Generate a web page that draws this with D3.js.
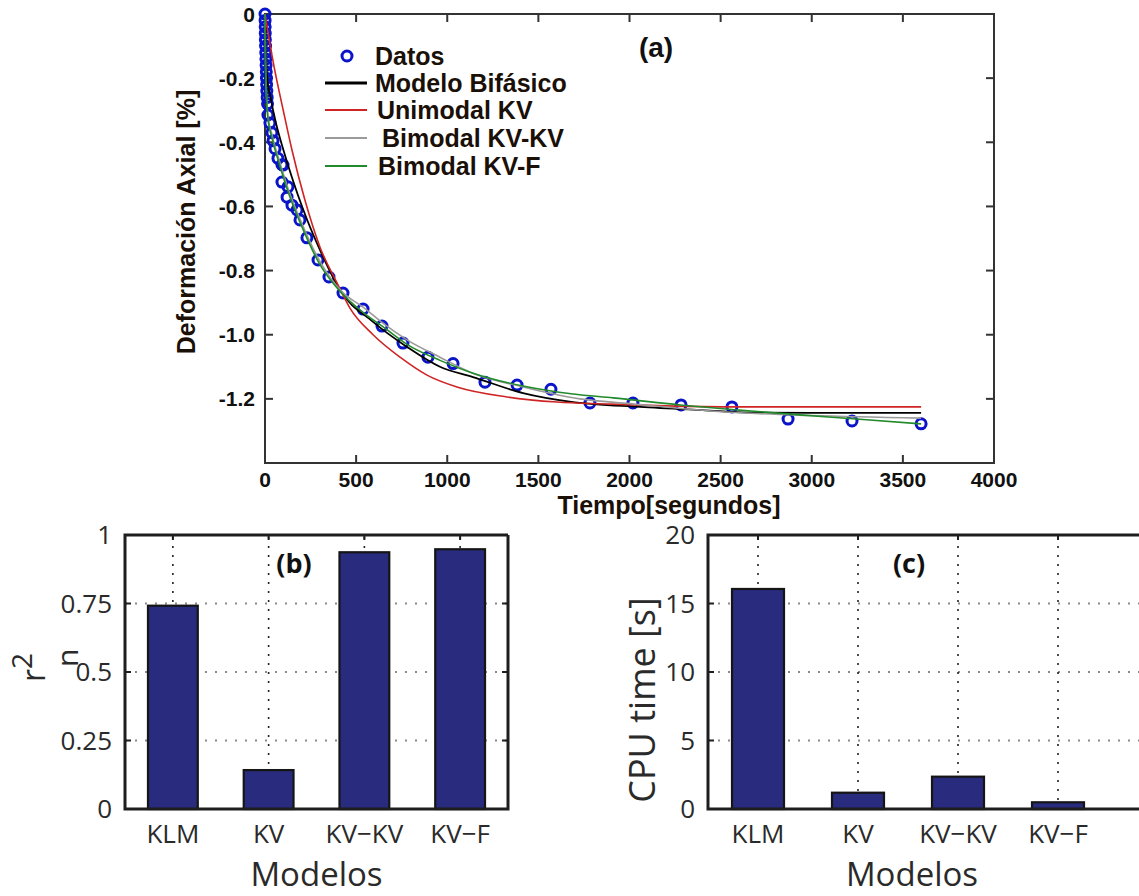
<!DOCTYPE html>
<html><head><meta charset="utf-8">
<script src="https://cdn.jsdelivr.net/npm/d3@7"></script>
<style>body{margin:0;background:#fff}</style>
</head><body><svg id="chart" width="1139" height="896"></svg>
<script>
// ---------- Panel (a) data ----------
const datosTime   = [0,0.5,1,1.5,2,3,4,5,6,7,8,9,10,12,14,16,27,38,44,55,71,93,99,93,126,121,148,176,192,230,291,351,428,538,642,757,894,1032,1207,1383,1569,1783,2019,2283,2562,2870,3221,3600];
const datosStrain = [0,-0.02,-0.04,-0.06,-0.08,-0.10,-0.12,-0.14,-0.16,-0.18,-0.20,-0.22,-0.24,-0.26,-0.28,-0.315,-0.34,-0.37,-0.395,-0.42,-0.45,-0.47,-0.471,-0.524,-0.539,-0.571,-0.596,-0.611,-0.642,-0.698,-0.767,-0.82,-0.87,-0.92,-0.973,-1.026,-1.07,-1.09,-1.148,-1.157,-1.17,-1.213,-1.213,-1.219,-1.225,-1.263,-1.269,-1.278];

const bifasicoTime   = [0,5,12,30,60,99,148,181,230,313,412,593,779,960,1141,1416,1690,2058,2400,2700,3000,3600];
const bifasicoStrain = [0,-0.12,-0.20,-0.26,-0.34,-0.42,-0.51,-0.565,-0.64,-0.75,-0.861,-0.96,-1.038,-1.10,-1.132,-1.182,-1.21,-1.225,-1.235,-1.243,-1.244,-1.244];

const unimodalTime   = [0,20,50,100,148,219,302,400,466,593,741,889,1053,1328,1602,1877,2200,2600,3000,3600];
const unimodalStrain = [0,-0.07,-0.165,-0.30,-0.424,-0.58,-0.727,-0.844,-0.917,-1.0,-1.07,-1.126,-1.163,-1.194,-1.21,-1.216,-1.222,-1.225,-1.225,-1.225];

const kvkvTime   = [0,3,8,15,40,80,130,200,300,420,538,647,779,960,1141,1416,1728,2003,2500,3000,3600];
const kvkvStrain = [0,-0.15,-0.25,-0.31,-0.38,-0.46,-0.55,-0.65,-0.77,-0.865,-0.914,-0.964,-1.016,-1.07,-1.12,-1.163,-1.20,-1.215,-1.24,-1.252,-1.26];

const kvfTime   = [0,3,8,15,40,80,130,200,300,420,538,647,779,960,1141,1416,1690,1910,2277,2600,2935,3300,3600];
const kvfStrain = [0,-0.15,-0.26,-0.32,-0.39,-0.47,-0.56,-0.66,-0.78,-0.87,-0.93,-0.975,-1.03,-1.08,-1.12,-1.16,-1.185,-1.197,-1.219,-1.235,-1.25,-1.265,-1.278];

const xTicksA = [0,500,1000,1500,2000,2500,3000,3500,4000];
const yTicksA = [0,-0.2,-0.4,-0.6,-0.8,-1.0,-1.2];
const yTickLabelsA = ["0","-0.2","-0.4","-0.6","-0.8","-1.0","-1.2"];
const legendLabels = ["Datos","Modelo Bifásico","Unimodal KV","Bimodal KV-KV","Bimodal KV-F"];

// ---------- Panels (b), (c) data ----------
const modelos = ["KLM","KV","KV\u2212KV","KV\u2212F"];
const r2Values = [0.742,0.142,0.937,0.948];
const cpuValues = [16.06,1.19,2.36,0.49];
const yTicksB = [0,0.25,0.5,0.75,1];
const yTickLabelsB = ["0","0.25","0.5","0.75","1"];
const yTicksC = [0,5,10,15,20];

const svg = d3.select("#chart");
svg.append("rect").attr("width",1139).attr("height",896).attr("fill","#fff");

// ================= Panel (a) =================
const xA = d3.scaleLinear().domain([0,4000]).range([265,994]);
const yA = d3.scaleLinear().domain([-1.4,0]).range([463,14]);
const gA = svg.append("g");
const boldF = "'Liberation Sans', Arial, sans-serif";

gA.append("rect").attr("x",xA(0)).attr("y",yA(0)).attr("width",xA(4000)-xA(0)).attr("height",yA(-1.4)-yA(0))
  .attr("fill","none").attr("stroke","#333").attr("stroke-width",2);
xTicksA.forEach(t=>{
  gA.append("line").attr("x1",xA(t)).attr("x2",xA(t)).attr("y1",yA(-1.4)).attr("y2",yA(-1.4)-8).attr("stroke","#333").attr("stroke-width",2);
  gA.append("line").attr("x1",xA(t)).attr("x2",xA(t)).attr("y1",yA(0)).attr("y2",yA(0)+8).attr("stroke","#333").attr("stroke-width",2);
  gA.append("text").attr("x",xA(t)).attr("y",487).attr("text-anchor","middle")
    .attr("font-family",boldF).attr("font-weight","bold").attr("font-size",21).attr("fill","#111").text(t);
});
yTicksA.forEach((v,i)=>{
  gA.append("line").attr("x1",xA(0)).attr("x2",xA(0)+8).attr("y1",yA(v)).attr("y2",yA(v)).attr("stroke","#333").attr("stroke-width",2);
  gA.append("line").attr("x1",xA(4000)).attr("x2",xA(4000)-8).attr("y1",yA(v)).attr("y2",yA(v)).attr("stroke","#333").attr("stroke-width",2);
  gA.append("text").attr("x",255).attr("y",yA(v)).attr("dy","0.36em").attr("text-anchor","end")
    .attr("font-family",boldF).attr("font-weight","bold").attr("font-size",21).attr("fill","#111").text(yTickLabelsA[i]);
});
gA.append("text").attr("transform","translate(195,222) rotate(-90)").attr("text-anchor","middle")
  .attr("font-family",boldF).attr("font-weight","bold").attr("font-size",25).attr("fill","#1a1008").text("Deformación Axial [%]");
gA.append("text").attr("x",669).attr("y",514).attr("text-anchor","middle")
  .attr("font-family",boldF).attr("font-weight","bold").attr("font-size",25).attr("fill","#1a1008").text("Tiempo[segundos]");
gA.append("text").attr("x",656).attr("y",57).attr("text-anchor","middle")
  .attr("font-family",boldF).attr("font-weight","bold").attr("font-size",28).attr("fill","#111").text("(a)");

const datos = datosTime.map((t,i)=>({t, v:datosStrain[i]}));
gA.selectAll("circle.d").data(datos).enter().append("circle")
  .attr("cx",d=>xA(d.t)).attr("cy",d=>yA(d.v)).attr("r",5)
  .attr("fill","none").attr("stroke","#0a14c8").attr("stroke-width",3);

const line = d3.line().x(d=>xA(d.t)).y(d=>yA(d.v)).curve(d3.curveMonotoneX);
const models = [
  {t:bifasicoTime, v:bifasicoStrain, c:"#000", w:1.8},
  {t:unimodalTime, v:unimodalStrain, c:"#d02424", w:1.6},
  {t:kvkvTime, v:kvkvStrain, c:"#9a9a9a", w:1.6},
  {t:kvfTime, v:kvfStrain, c:"#218a2a", w:1.6}
];
models.forEach(m=>{
  const pts = m.t.map((t,i)=>({t, v:m.v[i]}));
  gA.append("path").datum(pts).attr("d",line).attr("fill","none").attr("stroke",m.c).attr("stroke-width",m.w);
});

const legY = [56,83,110,138,166];
const legX = [375,375,377,382,378];
gA.append("circle").attr("cx",347).attr("cy",legY[0]).attr("r",5).attr("fill","none").attr("stroke","#0a14c8").attr("stroke-width",3);
models.forEach((m,i)=>{
  gA.append("line").attr("x1",325).attr("x2",367).attr("y1",legY[i+1]).attr("y2",legY[i+1])
    .attr("stroke",m.c).attr("stroke-width",i===0?3:1.8);
});
legendLabels.forEach((s,i)=>{
  gA.append("text").attr("x",legX[i]).attr("y",legY[i]).attr("dy","0.36em")
    .attr("font-family",boldF).attr("font-weight","bold").attr("font-size",25).attr("fill","#1a1008").text(s);
});

// ================= Bar panels =================
const lightF = "'Open Sans', 'Noto Sans', sans-serif";
function barPanel(cfg){
  const g = svg.append("g");
  const x = d3.scaleLinear().domain([0.5,4.5]).range([cfg.x0,cfg.x1]);
  const y = d3.scaleLinear().domain([0,cfg.ymax]).range([809,535]);
  const right = cfg.frameRight;
  cfg.ticks.forEach(v=>{
    if(v===0||v===cfg.ymax) return;
    g.append("line").attr("x1",cfg.x0).attr("x2",right).attr("y1",y(v)).attr("y2",y(v))
      .attr("stroke","#8a8a8a").attr("stroke-width",2).attr("stroke-dasharray","2,8");
  });
  modelos.forEach((m,i)=>{
    g.append("line").attr("x1",x(i+1)).attr("x2",x(i+1)).attr("y1",y(0)).attr("y2",y(cfg.ymax))
      .attr("stroke","#222").attr("stroke-width",1.6).attr("stroke-dasharray","2,7");
  });
  const bw = x(1.26)-x(1);
  g.selectAll("rect.bar").data(cfg.values).enter().append("rect")
    .attr("x",(d,i)=>x(i+1)-bw).attr("width",2*bw)
    .attr("y",d=>y(d)).attr("height",d=>y(0)-y(d))
    .attr("fill","#292b7e").attr("stroke","#151515").attr("stroke-width",2.2);
  g.append("path").attr("d",`M${right},${y(cfg.ymax)}H${cfg.x0}V${y(0)}H${right}`+(cfg.closeRight?`V${y(cfg.ymax)}`:""))
    .attr("fill","none").attr("stroke","#1e1e1e").attr("stroke-width",3);
  cfg.ticks.forEach((v,i)=>{
    g.append("line").attr("x1",cfg.x0).attr("x2",cfg.x0+6).attr("y1",y(v)).attr("y2",y(v)).attr("stroke","#1e1e1e").attr("stroke-width",2);
    if(cfg.closeRight) g.append("line").attr("x1",right).attr("x2",right-6).attr("y1",y(v)).attr("y2",y(v)).attr("stroke","#1e1e1e").attr("stroke-width",2);
    g.append("text").attr("x",cfg.x0-13).attr("y",y(v)).attr("dy","0.36em").attr("text-anchor","end")
      .attr("font-family",lightF).attr("font-size",26).attr("fill","#2a2a2a").text(cfg.tickLabels[i]);
  });
  modelos.forEach((m,i)=>{
    g.append("line").attr("x1",x(i+1)).attr("x2",x(i+1)).attr("y1",y(cfg.ymax)).attr("y2",y(cfg.ymax)+5).attr("stroke","#1e1e1e").attr("stroke-width",2);
    g.append("text").attr("x",x(i+1)).attr("y",843).attr("text-anchor","middle")
      .attr("font-family",lightF).attr("font-size",26).attr("fill","#2a2a2a").text(m);
  });
  g.append("text").attr("x",(cfg.x0+cfg.x1)/2+cfg.labelShift).attr("y",886).attr("text-anchor","middle")
    .attr("font-family",lightF).attr("font-size",33).attr("fill","#2a2a2a").text("Modelos");
  g.append("text").attr("x",cfg.tagX).attr("y",573).attr("text-anchor","middle")
    .attr("font-family",lightF).attr("font-weight","bold").attr("font-size",27).attr("fill","#111").text(cfg.tag);
  return g;
}

barPanel({x0:125,x1:508,frameRight:508,closeRight:true,ymax:1,values:r2Values,ticks:yTicksB,tickLabels:yTickLabelsB,
  tag:"(b)",tagX:294,labelShift:0});
barPanel({x0:708,x1:1108,frameRight:1160,closeRight:false,ymax:20,values:cpuValues,ticks:yTicksC,tickLabels:yTicksC.map(String),
  tag:"(c)",tagX:909,labelShift:4});

const rl = svg.append("g").attr("transform","translate(45,682) rotate(-90)")
  .attr("font-family",lightF).attr("fill","#2a2a2a");
rl.append("text").attr("x",0).attr("y",0).attr("font-size",32).text("r");
rl.append("text").attr("x",13).attr("y",-13).attr("font-size",28).text("2");
rl.append("text").attr("x",15).attr("y",33).attr("font-size",30).text("n");

svg.append("text").attr("transform","translate(655,700) rotate(-90)").attr("text-anchor","middle")
  .attr("font-family",lightF).attr("font-size",36).attr("fill","#2a2a2a").text("CPU time [s]");
</script></body></html>
